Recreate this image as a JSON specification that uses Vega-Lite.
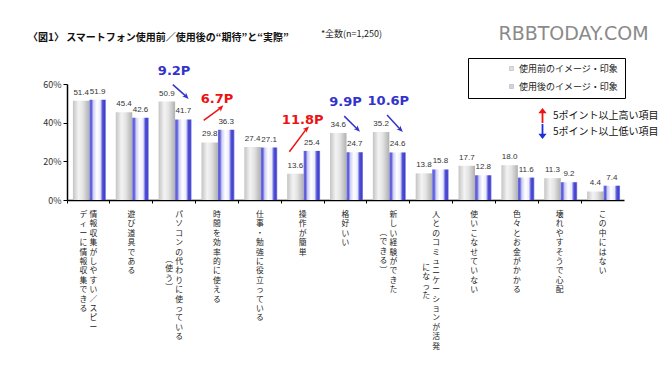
{
  "$schema": "https://vega.github.io/schema/vega-lite/v6.json",
  "width": 557,
  "height": 116,
  "autosize": "none",
  "padding": {"left": 67, "top": 84, "right": 46, "bottom": 177},
  "background": "white",
  "config": {
    "font": "Noto Sans CJK JP",
    "view": {"stroke": null},
    "axis": {"grid": false, "domainColor": "#000", "tickColor": "#000", "labelColor": "#333"}
  },
  "title": {
    "text": "〈図1〉 スマートフォン使用前／使用後の“期待”と“実際”",
    "anchor": "start",
    "frame": "group",
    "fontSize": 10,
    "fontWeight": "bold",
    "color": "#111",
    "baseline": "middle",
    "dx": -39,
    "offset": 0,
    "dy": 24
  },
  "datasets": {
    "bars": [
      {"cat": "情報収集がしやすい／スピーディーに情報収集できる", "series": "使用前のイメージ・印象", "value": 51.4},
      {"cat": "情報収集がしやすい／スピーディーに情報収集できる", "series": "使用後のイメージ・印象", "value": 51.9},
      {"cat": "遊び道具である", "series": "使用前のイメージ・印象", "value": 45.4},
      {"cat": "遊び道具である", "series": "使用後のイメージ・印象", "value": 42.6},
      {"cat": "パソコンの代わりに使っている（使う）", "series": "使用前のイメージ・印象", "value": 50.9},
      {"cat": "パソコンの代わりに使っている（使う）", "series": "使用後のイメージ・印象", "value": 41.7},
      {"cat": "時間を効率的に使える", "series": "使用前のイメージ・印象", "value": 29.8},
      {"cat": "時間を効率的に使える", "series": "使用後のイメージ・印象", "value": 36.3},
      {"cat": "仕事・勉強に役立っている", "series": "使用前のイメージ・印象", "value": 27.4},
      {"cat": "仕事・勉強に役立っている", "series": "使用後のイメージ・印象", "value": 27.1},
      {"cat": "操作が簡単", "series": "使用前のイメージ・印象", "value": 13.6},
      {"cat": "操作が簡単", "series": "使用後のイメージ・印象", "value": 25.4},
      {"cat": "格好いい", "series": "使用前のイメージ・印象", "value": 34.6},
      {"cat": "格好いい", "series": "使用後のイメージ・印象", "value": 24.7},
      {"cat": "新しい経験ができた（できる）", "series": "使用前のイメージ・印象", "value": 35.2},
      {"cat": "新しい経験ができた（できる）", "series": "使用後のイメージ・印象", "value": 24.6},
      {"cat": "人とのコミュニケーションが活発になった", "series": "使用前のイメージ・印象", "value": 13.8},
      {"cat": "人とのコミュニケーションが活発になった", "series": "使用後のイメージ・印象", "value": 15.8},
      {"cat": "使いこなせていない", "series": "使用前のイメージ・印象", "value": 17.7},
      {"cat": "使いこなせていない", "series": "使用後のイメージ・印象", "value": 12.8},
      {"cat": "色々とお金がかかる", "series": "使用前のイメージ・印象", "value": 18.0},
      {"cat": "色々とお金がかかる", "series": "使用後のイメージ・印象", "value": 11.6},
      {"cat": "壊れやすそうで心配", "series": "使用前のイメージ・印象", "value": 11.3},
      {"cat": "壊れやすそうで心配", "series": "使用後のイメージ・印象", "value": 9.2},
      {"cat": "この中にはない", "series": "使用前のイメージ・印象", "value": 4.4},
      {"cat": "この中にはない", "series": "使用後のイメージ・印象", "value": 7.4}
    ],
    "cats": [
      {"cat": "情報収集がしやすい／スピーディーに情報収集できる", "c1": "情報収集がしやすい／スピー", "c2": "ディーに情報収集できる"},
      {"cat": "遊び道具である", "c1": "遊び道具である", "c2": ""},
      {"cat": "パソコンの代わりに使っている（使う）", "c1": "パソコンの代わりに使っている", "c2": "︵使う︶"},
      {"cat": "時間を効率的に使える", "c1": "時間を効率的に使える", "c2": ""},
      {"cat": "仕事・勉強に役立っている", "c1": "仕事・勉強に役立っている", "c2": ""},
      {"cat": "操作が簡単", "c1": "操作が簡単", "c2": ""},
      {"cat": "格好いい", "c1": "格好いい", "c2": ""},
      {"cat": "新しい経験ができた（できる）", "c1": "新しい経験ができた", "c2": "︵できる︶"},
      {"cat": "人とのコミュニケーションが活発になった", "c1": "人とのコミュニケーションが活発", "c2": "になった"},
      {"cat": "使いこなせていない", "c1": "使いこなせていない", "c2": ""},
      {"cat": "色々とお金がかかる", "c1": "色々とお金がかかる", "c2": ""},
      {"cat": "壊れやすそうで心配", "c1": "壊れやすそうで心配", "c2": ""},
      {"cat": "この中にはない", "c1": "この中にはない", "c2": ""}
    ],
    "notes": [
      {"cat": "パソコンの代わりに使っている（使う）", "label": "9.2P", "dir": "5ポイント以上低い項目", "before": 50.9, "after": 41.7},
      {"cat": "時間を効率的に使える", "label": "6.7P", "dir": "5ポイント以上高い項目", "before": 29.8, "after": 36.3},
      {"cat": "操作が簡単", "label": "11.8P", "dir": "5ポイント以上高い項目", "before": 13.6, "after": 25.4},
      {"cat": "格好いい", "label": "9.9P", "dir": "5ポイント以上低い項目", "before": 34.6, "after": 24.7},
      {"cat": "新しい経験ができた（できる）", "label": "10.6P", "dir": "5ポイント以上低い項目", "before": 35.2, "after": 24.6}
    ]
  },
  "encoding": {
    "x": {
      "field": "cat",
      "type": "nominal",
      "scale": {
        "domain": ["情報収集がしやすい／スピーディーに情報収集できる", "遊び道具である", "パソコンの代わりに使っている（使う）", "時間を効率的に使える", "仕事・勉強に役立っている", "操作が簡単", "格好いい", "新しい経験ができた（できる）", "人とのコミュニケーションが活発になった", "使いこなせていない", "色々とお金がかかる", "壊れやすそうで心配", "この中にはない"],
        "paddingInner": 0,
        "paddingOuter": 0
      },
      "axis": {
        "labels": false,
        "bandPosition": 0,
        "tickSize": 3,
        "domainWidth": 1.5,
        "title": "*全数(n=1,250)",
        "titleFontSize": 9,
        "titleFontWeight": "normal",
        "titleColor": "#222",
        "titleX": 284,
        "titleY": -167,
        "titleBaseline": "middle",
        "titleAlign": "center"
      }
    },
    "y": {
      "field": "value", "type": "quantitative",
      "scale": {"domain": [0, 60], "nice": false},
      "axis": {
        "values": [0, 20, 40, 60],
        "labelExpr": "datum.value + '%'",
        "labelOverlap": false,
        "labelFontSize": 9,
        "tickSize": 4,
        "labelPadding": 2,
        "domainWidth": 1.5,
        "title": "RBBTODAY.COM",
        "titleAngle": 0,
        "titleFont": "DejaVu Sans",
        "titleFontSize": 19,
        "titleFontWeight": "normal",
        "titleColor": "#8a8a8a",
        "titleX": 506,
        "titleY": -51,
        "titleAlign": "center",
        "titleBaseline": "middle"
      }
    }
  },
  "layer": [
    {
      "data": {"name": "bars"},
      "transform": [{"filter": "datum.series === '使用前のイメージ・印象'"}],
      "mark": {
        "type": "bar",
        "color": {"gradient": "linear", "x1": 0, "y1": 0, "x2": 1, "y2": 0,
          "stops": [{"offset": 0, "color": "#c4c4c4"}, {"offset": 0.35, "color": "#f3f3f3"}, {"offset": 0.6, "color": "#e4e4e4"}, {"offset": 1, "color": "#b0b0b0"}]}
      },
      "encoding": {
        "xOffset": {"field": "series", "type": "nominal", "scale": {"domain": ["使用前のイメージ・印象", "使用後のイメージ・印象"], "paddingInner": 0, "paddingOuter": 0.3, "align": 0.6}}
      }
    },
    {
      "data": {"name": "bars"},
      "transform": [{"filter": "datum.series === '使用後のイメージ・印象'"}],
      "mark": {
        "type": "bar",
        "color": {"gradient": "linear", "x1": 0, "y1": 0, "x2": 1, "y2": 0,
          "stops": [{"offset": 0, "color": "#7070e0"}, {"offset": 0.12, "color": "#5a5ad8"}, {"offset": 0.24, "color": "#d0d0f6"}, {"offset": 0.45, "color": "#ffffff"}, {"offset": 0.66, "color": "#ececfb"}, {"offset": 0.8, "color": "#5050d6"}, {"offset": 0.92, "color": "#4040cc"}, {"offset": 1, "color": "#9090e6"}]}
      },
      "encoding": {
        "xOffset": {"field": "series", "type": "nominal"}
      }
    },
    {
      "data": {"name": "bars"},
      "mark": {"type": "text", "baseline": "bottom", "dy": -4, "fontSize": 8, "color": "#333", "font": "Liberation Sans"},
      "encoding": {
        "xOffset": {"field": "series", "type": "nominal"},
        "text": {"field": "value", "type": "quantitative", "format": ".1f"}
      }
    },
    {
      "data": {"name": "bars"},
      "transform": [{"filter": "datum.series === '使用前のイメージ・印象'"}, {"lookup": "cat", "from": {"data": {"name": "cats"}, "key": "cat", "fields": ["c1", "c2"]}}, {"filter": "datum.c2 === ''"}, {"calculate": "split(datum.c1, '')", "as": "t"}],
      "mark": {"type": "text", "baseline": "top", "align": "center", "dy": 11, "fontSize": 7.8, "lineHeight": 9.4, "color": "#222"},
      "encoding": {"y": {"datum": 0, "type": "quantitative"}, "text": {"field": "t", "type": "nominal"}}
    },
    {
      "data": {"name": "bars"},
      "transform": [{"filter": "datum.series === '使用前のイメージ・印象'"}, {"lookup": "cat", "from": {"data": {"name": "cats"}, "key": "cat", "fields": ["c1", "c2"]}}, {"filter": "datum.c2 !== ''"}, {"calculate": "split(datum.c1, '')", "as": "t"}],
      "mark": {"type": "text", "baseline": "top", "align": "center", "dy": 11, "dx": 5, "fontSize": 7.8, "lineHeight": 9.4, "color": "#222"},
      "encoding": {"y": {"datum": 0, "type": "quantitative"}, "text": {"field": "t", "type": "nominal"}}
    },
    {
      "data": {"name": "bars"},
      "transform": [{"filter": "datum.series === '使用前のイメージ・印象'"}, {"lookup": "cat", "from": {"data": {"name": "cats"}, "key": "cat", "fields": ["c1", "c2"]}}, {"filter": "datum.cat === '情報収集がしやすい／スピーディーに情報収集できる'"}, {"calculate": "split(datum.c2, '')", "as": "t"}],
      "mark": {"type": "text", "baseline": "top", "align": "center", "dy": 11, "dx": -5, "fontSize": 7.8, "lineHeight": 9.4, "color": "#222"},
      "encoding": {"y": {"datum": 0, "type": "quantitative"}, "text": {"field": "t", "type": "nominal"}}
    },
    {
      "data": {"name": "bars"},
      "transform": [{"filter": "datum.series === '使用前のイメージ・印象'"}, {"lookup": "cat", "from": {"data": {"name": "cats"}, "key": "cat", "fields": ["c1", "c2"]}}, {"filter": "datum.cat === 'パソコンの代わりに使っている（使う）'"}, {"calculate": "split(datum.c2, '')", "as": "t"}],
      "mark": {"type": "text", "baseline": "top", "align": "center", "dy": 56, "dx": -5, "fontSize": 7.8, "lineHeight": 9.4, "color": "#222"},
      "encoding": {"y": {"datum": 0, "type": "quantitative"}, "text": {"field": "t", "type": "nominal"}}
    },
    {
      "data": {"name": "bars"},
      "transform": [{"filter": "datum.series === '使用前のイメージ・印象'"}, {"lookup": "cat", "from": {"data": {"name": "cats"}, "key": "cat", "fields": ["c1", "c2"]}}, {"filter": "datum.cat === '新しい経験ができた（できる）'"}, {"calculate": "split(datum.c2, '')", "as": "t"}],
      "mark": {"type": "text", "baseline": "top", "align": "center", "dy": 29, "dx": -5, "fontSize": 7.8, "lineHeight": 9.4, "color": "#222"},
      "encoding": {"y": {"datum": 0, "type": "quantitative"}, "text": {"field": "t", "type": "nominal"}}
    },
    {
      "data": {"name": "bars"},
      "transform": [{"filter": "datum.series === '使用前のイメージ・印象'"}, {"lookup": "cat", "from": {"data": {"name": "cats"}, "key": "cat", "fields": ["c1", "c2"]}}, {"filter": "datum.cat === '人とのコミュニケーションが活発になった'"}, {"calculate": "split(datum.c2, '')", "as": "t"}],
      "mark": {"type": "text", "baseline": "top", "align": "center", "dy": 64, "dx": -5, "fontSize": 7.8, "lineHeight": 9.4, "color": "#222"},
      "encoding": {"y": {"datum": 0, "type": "quantitative"}, "text": {"field": "t", "type": "nominal"}}
    },
    {
      "data": {"name": "notes"},
      "transform": [{"filter": "datum.dir === '5ポイント以上低い項目'"}],
      "mark": {"type": "text", "baseline": "middle", "align": "center", "dy": -31, "fontSize": 13, "fontWeight": "bold", "font": "DejaVu Sans", "color": "#3333cc"},
      "encoding": {"x": {"field": "cat", "type": "nominal", "bandPosition": 0.5}, "y": {"field": "before", "type": "quantitative"}, "text": {"field": "label"}}
    },
    {
      "data": {"name": "notes"},
      "transform": [{"filter": "datum.dir === '5ポイント以上高い項目'"}],
      "mark": {"type": "text", "baseline": "middle", "align": "center", "dy": -31, "fontSize": 13, "fontWeight": "bold", "font": "DejaVu Sans", "color": "#ee1111"},
      "encoding": {"x": {"field": "cat", "type": "nominal", "bandPosition": 0.5}, "y": {"field": "after", "type": "quantitative"}, "text": {"field": "label"}}
    },
    {
      "data": {"name": "notes"},
      "transform": [{"filter": "datum.dir === '5ポイント以上低い項目'"}],
      "mark": {"type": "rule", "color": "#3333cc", "strokeWidth": 1.5, "yOffset": -17, "y2Offset": -23},
      "encoding": {
        "x": {"field": "cat", "type": "nominal", "bandPosition": 0.47},
        "x2": {"field": "cat", "bandPosition": 0.78},
        "y": {"field": "before", "type": "quantitative"},
        "y2": {"field": "after"}
      }
    },
    {
      "data": {"name": "notes"},
      "transform": [{"filter": "datum.dir === '5ポイント以上高い項目'"}],
      "mark": {"type": "rule", "color": "#ee1111", "strokeWidth": 1.5, "yOffset": -22, "y2Offset": -22},
      "encoding": {
        "x": {"field": "cat", "type": "nominal", "bandPosition": 0.19},
        "x2": {"field": "cat", "bandPosition": 0.59},
        "y": {"field": "before", "type": "quantitative"},
        "y2": {"field": "after"}
      }
    },
    {
      "data": {"name": "notes"},
      "transform": [{"filter": "datum.dir === '5ポイント以上低い項目'"}],
      "mark": {"type": "point", "shape": "M0,-1L-0.75,0.8L0,0.3L0.75,0.8Z", "filled": true, "size": 50, "angle": 135, "opacity": 1, "color": "#3333cc", "yOffset": -23},
      "encoding": {
        "x": {"field": "cat", "type": "nominal", "bandPosition": 0.78},
        "y": {"field": "after", "type": "quantitative"}
      }
    },
    {
      "data": {"name": "notes"},
      "transform": [{"filter": "datum.dir === '5ポイント以上高い項目'"}],
      "mark": {"type": "point", "shape": "M0,-1L-0.75,0.8L0,0.3L0.75,0.8Z", "filled": true, "size": 50, "angle": 45, "opacity": 1, "color": "#ee1111", "yOffset": -22},
      "encoding": {
        "x": {"field": "cat", "type": "nominal", "bandPosition": 0.59},
        "y": {"field": "after", "type": "quantitative"}
      }
    },
    {
      "data": {"name": "bars"},
      "mark": {"type": "point", "opacity": 0, "filled": true},
      "encoding": {
        "fill": {
          "field": "series", "type": "nominal",
          "scale": {"domain": ["使用前のイメージ・印象", "使用後のイメージ・印象"], "range": ["#dedede", "#d0d0e6"]},
          "legend": {
            "title": null, "orient": "none", "legendX": 401, "legendY": -26,
            "direction": "vertical", "strokeColor": "#000", "padding": 6, "rowPadding": 8,
            "symbolType": "square", "symbolSize": 16, "symbolStrokeColor": "#aaaaaa", "symbolStrokeWidth": 0.5,
            "symbolOpacity": 1, "symbolOffset": 33, "labelFontSize": 9, "labelColor": "#222", "labelOffset": 3,
            "labelExpr": "datum.label + '　　　　'"
          }
        }
      }
    },
    {
      "data": {"name": "notes"},
      "mark": {"type": "point", "opacity": 0, "filled": true},
      "encoding": {
        "y": {"field": "before", "type": "quantitative"},
        "shape": {
          "field": "dir", "type": "nominal",
          "scale": {"domain": ["5ポイント以上高い項目", "5ポイント以上低い項目"], "range": ["M0,-1L-0.55,-0.3L-0.12,-0.3L-0.12,1L0.12,1L0.12,-0.3L0.55,-0.3Z", "M0,1L-0.55,0.3L-0.12,0.3L-0.12,-1L0.12,-1L0.12,0.3L0.55,0.3Z"]},
          "legend": {"title": null, "orient": "none", "legendX": 468, "legendY": 24, "padding": 0, "rowPadding": 1, "symbolSize": 225, "symbolOpacity": 1, "symbolStrokeWidth": 0, "labelFontSize": 10, "labelOffset": 3, "labelColor": "#111"}
        },
        "color": {
          "field": "dir", "type": "nominal",
          "scale": {"domain": ["5ポイント以上高い項目", "5ポイント以上低い項目"], "range": ["#ee1111", "#1f2fd6"]},
          "legend": {"title": null, "orient": "none", "legendX": 468, "legendY": 24, "padding": 0, "rowPadding": 1, "symbolSize": 225, "symbolOpacity": 1, "symbolStrokeWidth": 0, "labelFontSize": 10, "labelOffset": 3, "labelColor": "#111"}
        }
      }
    }
  ]
}
